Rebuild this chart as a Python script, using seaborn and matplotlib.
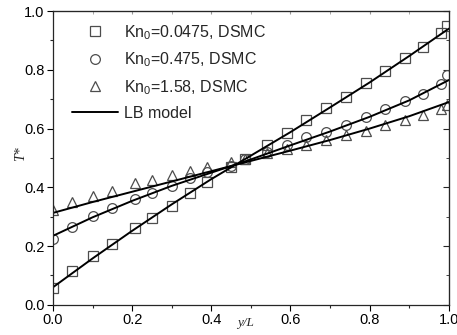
import numpy as np
import pandas as pd
import matplotlib
matplotlib.use("Agg")
import matplotlib.pyplot as plt
import seaborn as sns
from matplotlib.ticker import MultipleLocator

# DSMC points
x_sq = [0.0, 0.048, 0.10, 0.15, 0.207, 0.25, 0.30, 0.345, 0.39, 0.45, 0.485, 0.54,
        0.59, 0.64, 0.69, 0.74, 0.79, 0.84, 0.89, 0.935, 0.98, 0.995]
T_sq = [0.058, 0.116, 0.167, 0.207, 0.262, 0.296, 0.337, 0.381, 0.418, 0.469, 0.497, 0.544,
        0.585, 0.629, 0.670, 0.708, 0.755, 0.796, 0.840, 0.878, 0.925, 0.949]
x_ci = x_sq
T_ci = [0.224, 0.265, 0.303, 0.330, 0.361, 0.381, 0.405, 0.432, 0.452, 0.473, 0.497, 0.520,
        0.544, 0.570, 0.588, 0.612, 0.639, 0.667, 0.694, 0.718, 0.752, 0.782]
x_tr = x_sq
T_tr = [0.323, 0.350, 0.371, 0.388, 0.415, 0.425, 0.442, 0.455, 0.469, 0.486, 0.497, 0.517,
        0.531, 0.544, 0.561, 0.578, 0.592, 0.612, 0.629, 0.646, 0.667, 0.680]

# LB model curves
x_lb = [0.0, 0.1, 0.2, 0.3, 0.4, 0.5, 0.6, 0.7, 0.8, 0.9, 1.0]
T_lb_1 = [0.060, 0.158, 0.252, 0.342, 0.428, 0.508, 0.588, 0.672, 0.757, 0.847, 0.940]
T_lb_2 = [0.235, 0.298, 0.354, 0.405, 0.450, 0.495, 0.543, 0.590, 0.640, 0.696, 0.765]
T_lb_3 = [0.313, 0.350, 0.385, 0.420, 0.455, 0.490, 0.525, 0.561, 0.600, 0.642, 0.690]

labels = ["Kn$_0$=0.0475, DSMC", "Kn$_0$=0.475, DSMC", "Kn$_0$=1.58, DSMC"]

sns.set_style("ticks")
plt.rcParams['font.family'] = ['Liberation Sans', 'DejaVu Sans']
plt.rcParams['mathtext.fontset'] = 'custom'
plt.rcParams['mathtext.rm'] = 'Liberation Sans'
plt.rcParams['mathtext.it'] = 'Liberation Sans:italic'

fig = plt.figure(figsize=(4.57, 3.35), dpi=100)
ax = fig.add_axes([0.116, 0.090, 0.866, 0.877])

for xs, ts, m, lab in [(x_sq, T_sq, 's', labels[0]),
                       (x_ci, T_ci, 'o', labels[1]),
                       (x_tr, T_tr, '^', labels[2])]:
    sns.lineplot(x=xs, y=ts, ax=ax, linestyle='none', marker=m, markersize=7,
                 markerfacecolor='none', markeredgecolor='0.3', markeredgewidth=0.9,
                 label=lab, sort=False, estimator=None)

for i, ts in enumerate([T_lb_1, T_lb_2, T_lb_3]):
    sns.lineplot(x=x_lb, y=ts, ax=ax, color='black', linewidth=1.4,
                 label="LB model" if i == 0 else None, estimator=None)

ax.set_xlim(0, 1)
ax.set_ylim(0, 1)
ax.xaxis.set_major_locator(MultipleLocator(0.2))
ax.xaxis.set_minor_locator(MultipleLocator(0.1))
ax.yaxis.set_major_locator(MultipleLocator(0.2))
ax.yaxis.set_minor_locator(MultipleLocator(0.1))
ax.tick_params(axis='both', which='major', direction='out', length=4, width=0.8,
               labelsize=10.5, colors='black', pad=2)
ax.tick_params(axis='both', which='minor', direction='out', length=2.5, width=0.8)
for sp in ax.spines.values():
    sp.set_linewidth(0.9)

# right / top ticks point inward
sec_r = ax.secondary_yaxis('right')
sec_r.yaxis.set_major_locator(MultipleLocator(0.2))
sec_r.yaxis.set_minor_locator(MultipleLocator(0.1))
sec_r.tick_params(which='both', direction='in', labelright=False)
sec_r.tick_params(which='major', length=4)
sec_r.tick_params(which='minor', length=2.5)
sec_t = ax.secondary_xaxis('top')
sec_t.xaxis.set_major_locator(MultipleLocator(0.2))
sec_t.xaxis.set_minor_locator(MultipleLocator(0.1))
sec_t.tick_params(which='both', direction='in', labeltop=False, length=2, color='0.6')

ax.set_xlabel("")
ax.set_ylabel("")
fig.text(0.046, 0.54, "T*", rotation=90, family='Liberation Serif', style='italic',
         fontsize=10, ha='center', va='center')
fig.text(0.537, 0.037, "y/L", family='Liberation Serif', style='italic',
         fontsize=9.5, ha='center', va='center')

ax.legend(loc='upper left', frameon=False, fontsize=11.5, handlelength=2.9,
          handletextpad=0.35, labelspacing=0.55, borderaxespad=0.5,
          bbox_to_anchor=(0.012, 1.008))

fig.savefig("out.png", dpi=100)
